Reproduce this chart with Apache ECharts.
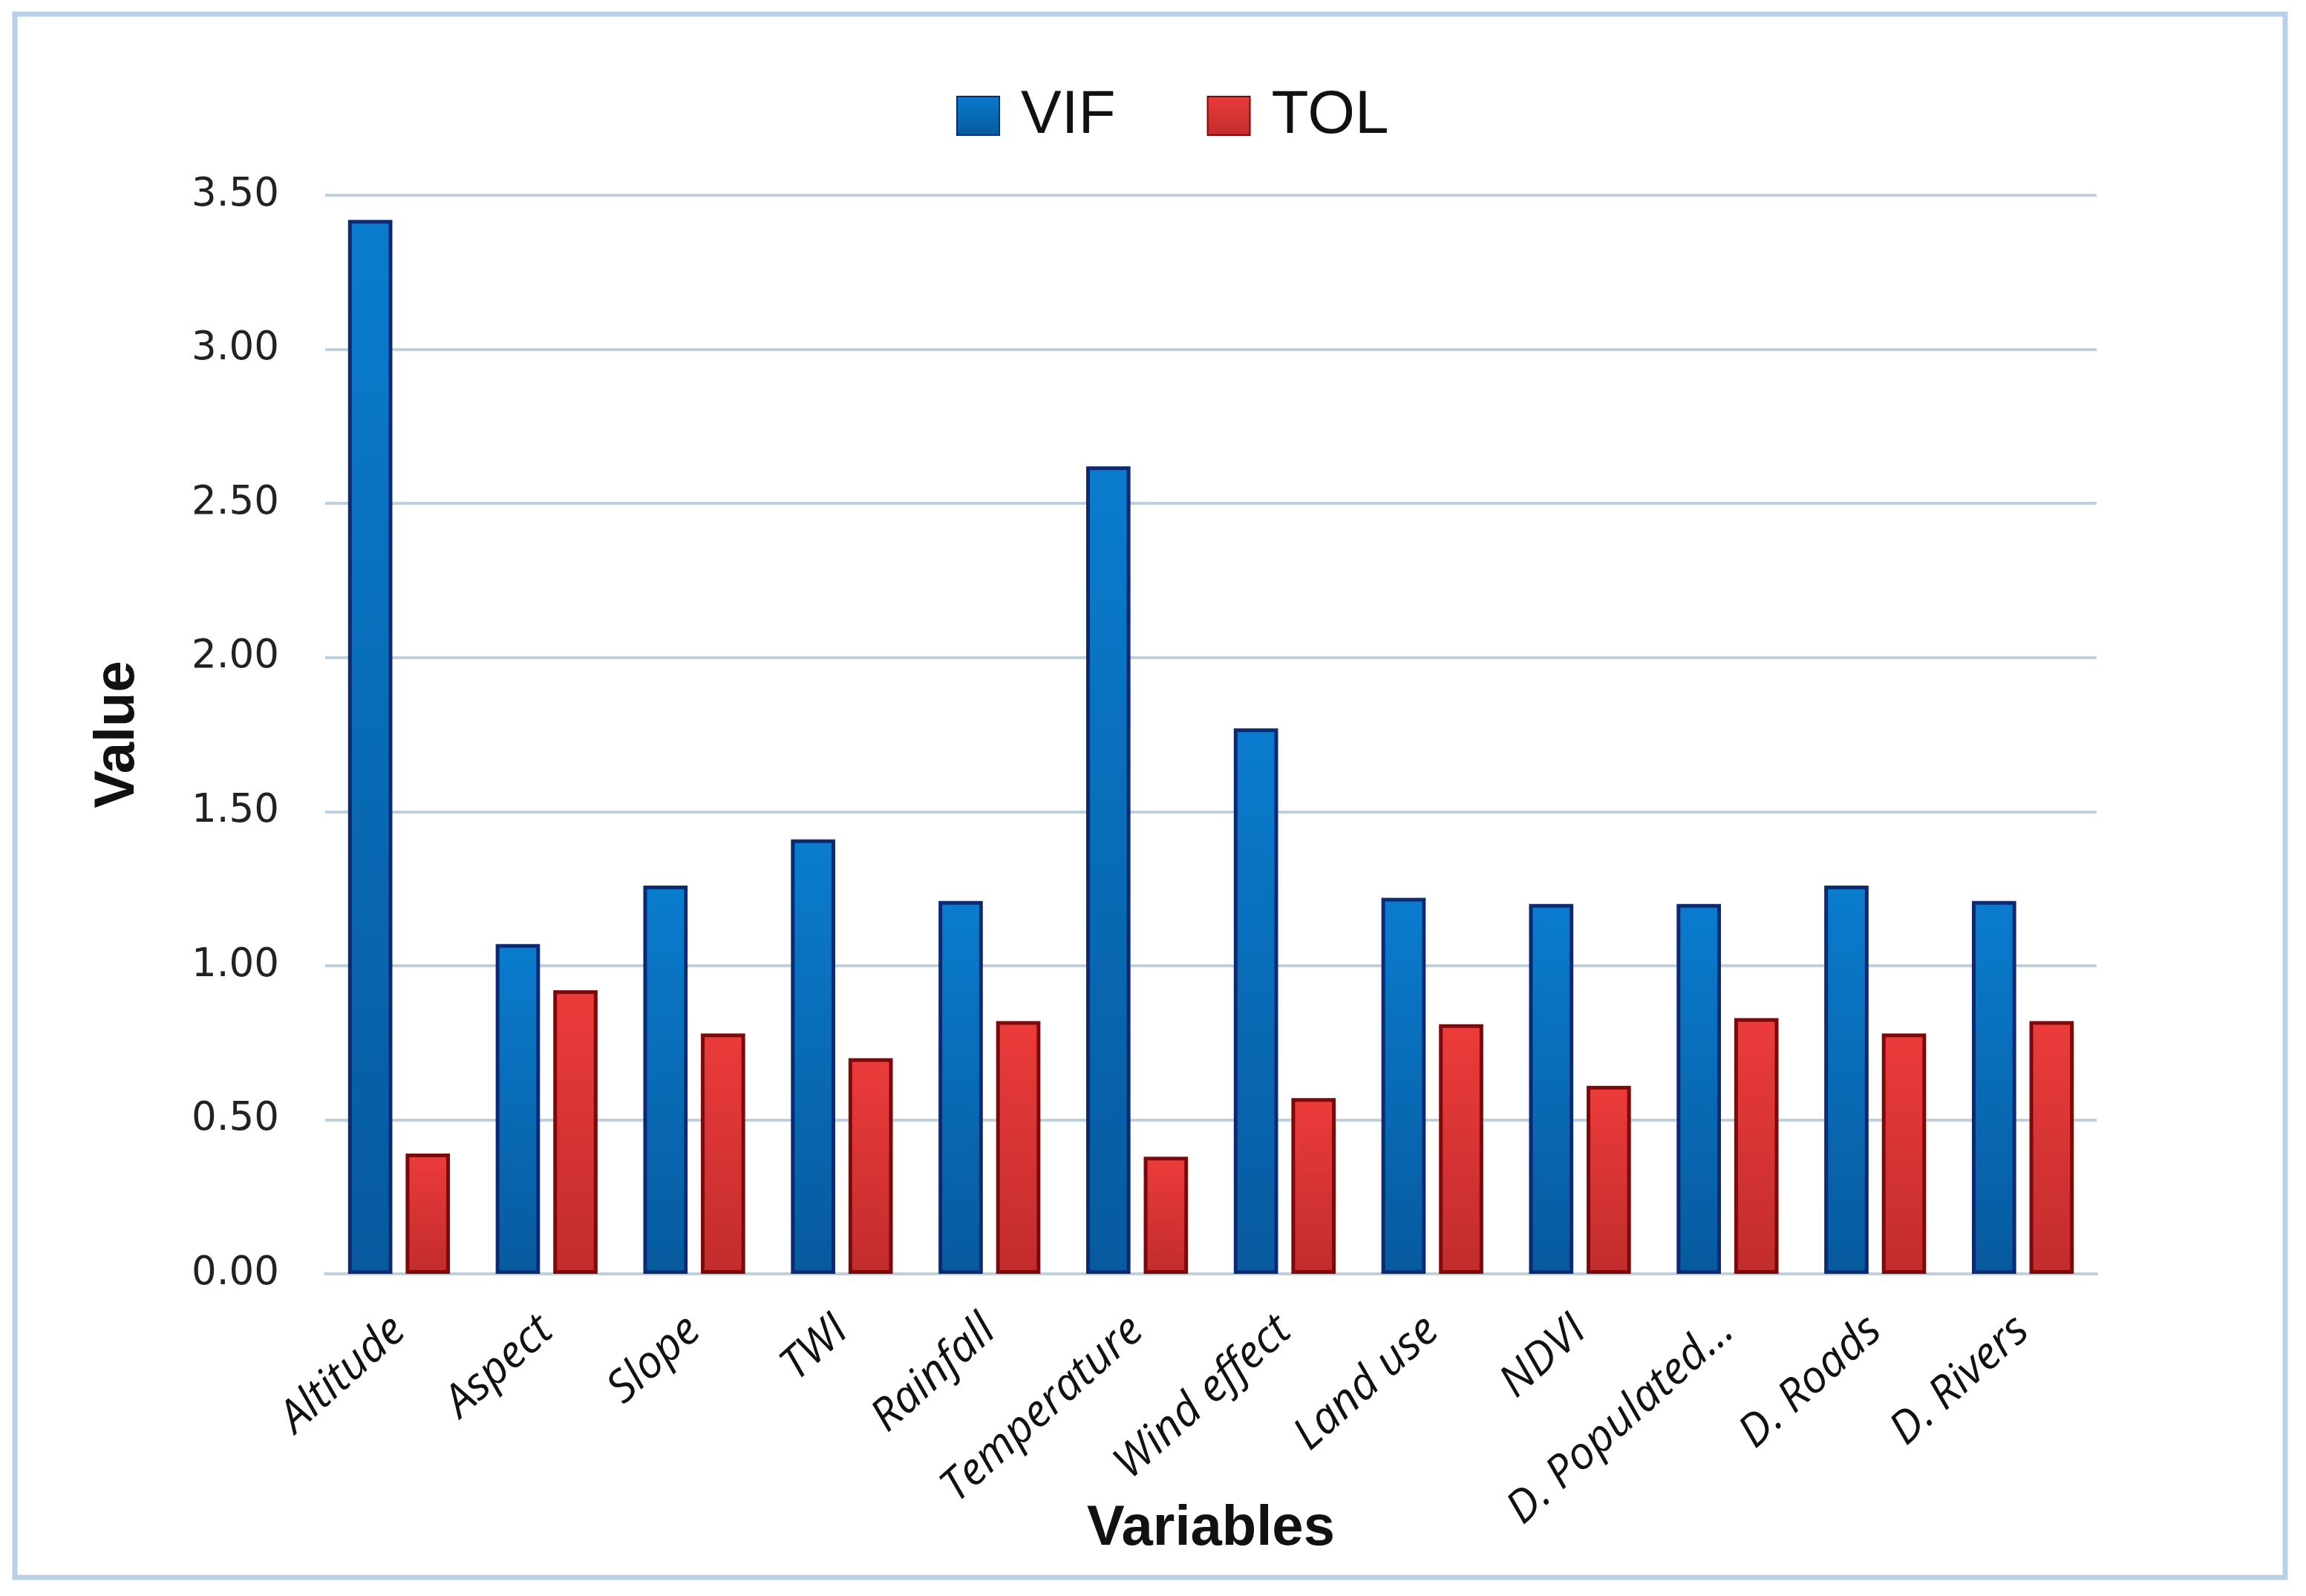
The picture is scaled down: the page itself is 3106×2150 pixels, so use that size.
<!DOCTYPE html>
<html>
<head>
<meta charset="utf-8">
<script src="https://cdn.jsdelivr.net/npm/echarts@6/dist/echarts.min.js"></script>
<style>
html,body{margin:0;padding:0;background:#fff;}
#chart{width:3106px;height:2150px;}
</style>
</head>
<body>
<div id="chart"></div>
<script>
const categories = ['Altitude','Aspect','Slope','TWI','Rainfall','Temperature','Wind effect','Land use','NDVI','D. Populated…','D. Roads','D. Rivers'];
const vifValues = [3.42,1.07,1.26,1.41,1.21,2.62,1.77,1.22,1.20,1.20,1.26,1.21];
const tolValues = [0.39,0.92,0.78,0.70,0.82,0.38,0.57,0.81,0.61,0.83,0.78,0.82];
const yTicks = [0,0.5,1,1.5,2,2.5,3,3.5];

const chart = echarts.init(document.getElementById('chart'), null, {renderer:'canvas', devicePixelRatio:1});

function vGrad(top, bottom){
  return new echarts.graphic.LinearGradient(0,0,0,1,[{offset:0,color:top},{offset:1,color:bottom}]);
}

const option = {
  backgroundColor:'#ffffff',
  animation:false,
  graphic:[{
    type:'rect', silent:true, z:-1,
    shape:{x:20,y:19,width:3058,height:2106},
    style:{fill:'none',stroke:'#b9d1e8',lineWidth:7}
  }],
  legend:{
    left:1283, top:110,
    itemWidth:57, itemHeight:52, itemGap:123,
    icon:'rect',
    textStyle:{fontFamily:'Liberation Sans, Arial, sans-serif',fontSize:82,color:'#111',lineHeight:82,padding:[0,0,0,24]},
    data:['VIF','TOL']
  },
  grid:{left:438,right:282,top:263,bottom:434},
  xAxis:{
    type:'category',
    data:categories,
    name:'Variables',
    nameLocation:'middle',
    nameGap:306,
    nameMoveOverlap:false,
    nameTextStyle:{fontFamily:"'Liberation Sans Narrow', 'Liberation Sans', Arial, sans-serif",fontWeight:'bold',fontSize:76,color:'#111'},
    axisLine:{show:true,lineStyle:{color:'#bfcfde',width:4}},
    axisTick:{show:false},
    axisLabel:{
      interval:0, rotate:42, margin:68,
      fontFamily:"'Open Sans', sans-serif", fontStyle:'italic', fontSize:60, color:'#111'
    }
  },
  yAxis:{
    type:'value',
    min:0, max:3.5, interval:0.5,
    name:'Value',
    nameLocation:'middle',
    nameGap:241,
    nameRotate:90,
    nameMoveOverlap:false,
    nameTextStyle:{fontFamily:"'Liberation Sans Narrow', 'Liberation Sans', Arial, sans-serif",fontWeight:'bold',fontSize:76,color:'#111'},
    axisLine:{show:false},
    axisTick:{show:false},
    splitLine:{show:true,lineStyle:{color:'#bfcfde',width:4}},
    axisLabel:{
      margin:62,
      fontFamily:"'DejaVu Sans', Verdana, sans-serif", fontSize:53, color:'#222',
      formatter:function(v){ return yTicks.indexOf(v) >= 0 ? v.toFixed(2) : ''; }
    }
  },
  series:[
    {
      name:'VIF', type:'bar', data:vifValues,
      barGap:'30%', barCategoryGap:'31%',
      itemStyle:{color:vGrad('#0a7cce','#075a9e'),borderColor:'#0b2a72',borderWidth:5}
    },
    {
      name:'TOL', type:'bar', data:tolValues,
      barGap:'30%', barCategoryGap:'31%',
      itemStyle:{color:vGrad('#ec3b3b','#c22c2c'),borderColor:'#7d0a0a',borderWidth:5}
    }
  ]
};
chart.setOption(option);
</script>
</body>
</html>
